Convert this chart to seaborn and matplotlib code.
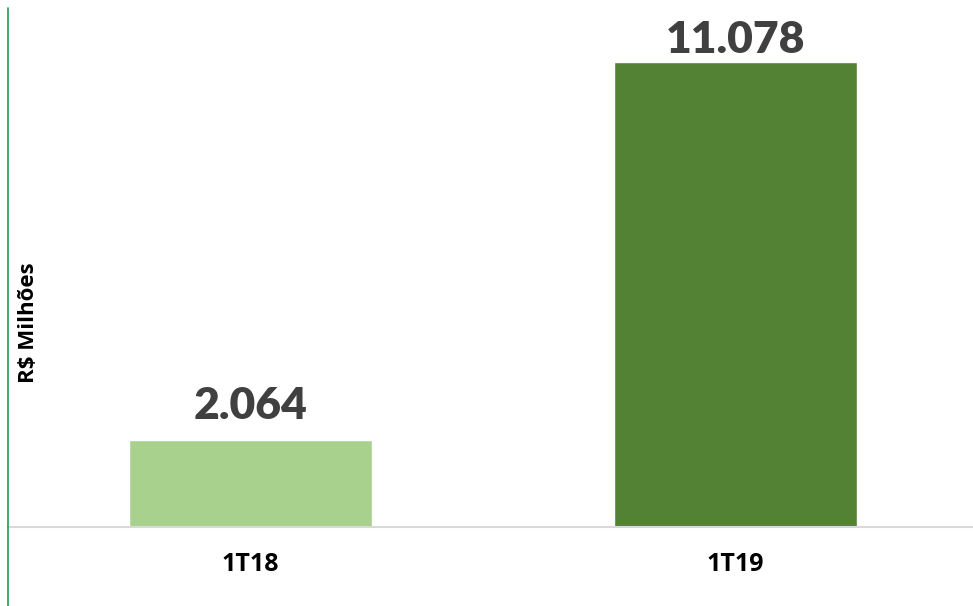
import pandas as pd
import matplotlib.pyplot as plt
import seaborn as sns
from matplotlib.lines import Line2D

# -------------------------------
# Data
# -------------------------------
periods = ["1T18", "1T19"]
values = [2064, 11078]
value_labels = ["2.064", "11.078"]
bar_colors = ["#A9D18E", "#548235"]

df = pd.DataFrame({"periodo": periods, "valor": values})

# -------------------------------
# Plot
# -------------------------------
sns.set_theme(style="white")
plt.rcParams["font.family"] = ["Open Sans", "DejaVu Sans"]

fig = plt.figure(figsize=(9.73, 6.06), dpi=100)
ax = fig.add_axes([8 / 973, 1 - 527 / 606, 965 / 973, 519 / 606])

sns.barplot(data=df, x="periodo", y="valor", hue="periodo",
            palette=bar_colors, width=0.5, legend=False, ax=ax, saturation=1)

ax.set_xlim(-0.5, 1.4897)
ax.set_ylim(0, 11078 * 519 / 465)

# value labels above bars
pads = [10, 1.5]
for container, lab, pad in zip(ax.containers, value_labels, pads):
    ax.bar_label(container, labels=[lab], padding=pad, fontsize=32,
                 fontweight="heavy", color="#404040", family=["Lato", "DejaVu Sans"])

for side in ["top", "right", "left"]:
    ax.spines[side].set_visible(False)
ax.spines["bottom"].set_color("#d9d9d9")
ax.spines["bottom"].set_linewidth(1.5)

ax.set_yticks([])
ax.set_xlabel("")
ax.set_ylabel("R$ Milhões", fontsize=16, fontweight="bold", color="black")
ax.yaxis.label.set_va("center")
ax.yaxis.set_label_coords((29 - 8) / 965, (527 - 323) / 519)
ax.tick_params(axis="x", length=0, pad=18)
for t in ax.get_xticklabels():
    t.set_fontsize(18)
    t.set_fontweight("bold")
    t.set_color("black")

# thin green vertical line on the left edge
fig.add_artist(Line2D([7.5 / 973, 7.5 / 973], [0, 1 - 8 / 606],
                      transform=fig.transFigure, color="#1f9c50", linewidth=1.2))

fig.savefig("out.png", dpi=100)
